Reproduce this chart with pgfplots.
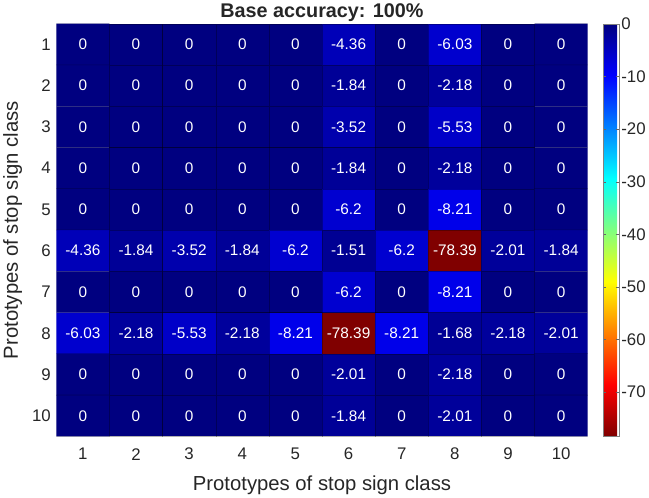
\documentclass[border=0pt]{standalone}
\usepackage{pgfplots}
\pgfplotsset{compat=1.18}
\usepackage{fontspec}
\setmainfont{Liberation Sans}
\begin{document}
\begin{tikzpicture}
\begin{axis}[
  scale only axis,
  width=537pt, height=417pt,
  xmin=0.5, xmax=10.5, ymin=0.5, ymax=10.5,
  y dir=reverse,
  xtick={1,...,10}, ytick={1,...,10},
  tick style={draw=none},
  /pgf/number format/assume math mode=true,
  tick label style={font=\fontsize{17}{19}\selectfont, text=black!85},
  xticklabel style={anchor=center, yshift=-18pt},
  yticklabel style={xshift=-2pt},
  xlabel={Prototypes of stop sign class},
  ylabel={Prototypes of stop sign class},
  label style={font=\fontsize{20.5}{22}\selectfont, text=black!85},
  title={\textbf{Base accuracy: 100\%}},
  title style={font=\fontsize{20}{22}\selectfont, text=black!85, yshift=-7pt},
  xlabel style={at={(axis description cs:0.5,0)}, anchor=center, yshift=-49pt},
  ylabel style={at={(axis description cs:0,0.5)}, anchor=center, rotate=0, yshift=44pt},
  axis line style={draw=none},
  colormap={rjet}{rgb(0pt)=(0.5,0,0); rgb(1pt)=(1,0,0); rgb(3pt)=(1,1,0); rgb(5pt)=(0,1,1); rgb(7pt)=(0,0,1); rgb(8pt)=(0,0,0.5)},
  point meta min=-78.39, point meta max=0,
  colorbar right,
  colorbar style={
    width=16pt,
    at={(parent axis.north east)}, anchor=north west, xshift=7pt,
    ytick={0,-10,-20,-30,-40,-50,-60,-70},
    yticklabel style={font=\fontsize{17}{19}\selectfont, text=black!85, xshift=-1pt},
    /pgf/number format/assume math mode=true,
    major tick length=3pt,
    tick style={draw=black!60},
    axis line style={draw=black!50},
  },
  nodes near coords,
  nodes near coords style={font=\fontsize{15.5}{17}\selectfont, text=white, anchor=center},
  /pgf/number format/.cd, fixed, precision=2,
]
\addplot[matrix plot, mesh/cols=10, point meta=explicit, draw=black, line width=0.3pt, draw opacity=0.3] table[meta=z] {
x y z
1 1 0
2 1 0
3 1 0
4 1 0
5 1 0
6 1 -4.36
7 1 0
8 1 -6.03
9 1 0
10 1 0
1 2 0
2 2 0
3 2 0
4 2 0
5 2 0
6 2 -1.84
7 2 0
8 2 -2.18
9 2 0
10 2 0
1 3 0
2 3 0
3 3 0
4 3 0
5 3 0
6 3 -3.52
7 3 0
8 3 -5.53
9 3 0
10 3 0
1 4 0
2 4 0
3 4 0
4 4 0
5 4 0
6 4 -1.84
7 4 0
8 4 -2.18
9 4 0
10 4 0
1 5 0
2 5 0
3 5 0
4 5 0
5 5 0
6 5 -6.2
7 5 0
8 5 -8.21
9 5 0
10 5 0
1 6 -4.36
2 6 -1.84
3 6 -3.52
4 6 -1.84
5 6 -6.2
6 6 -1.51
7 6 -6.2
8 6 -78.39
9 6 -2.01
10 6 -1.84
1 7 0
2 7 0
3 7 0
4 7 0
5 7 0
6 7 -6.2
7 7 0
8 7 -8.21
9 7 0
10 7 0
1 8 -6.03
2 8 -2.18
3 8 -5.53
4 8 -2.18
5 8 -8.21
6 8 -78.39
7 8 -8.21
8 8 -1.68
9 8 -2.18
10 8 -2.01
1 9 0
2 9 0
3 9 0
4 9 0
5 9 0
6 9 -2.01
7 9 0
8 9 -2.18
9 9 0
10 9 0
1 10 0
2 10 0
3 10 0
4 10 0
5 10 0
6 10 -1.84
7 10 0
8 10 -2.01
9 10 0
10 10 0
};
\end{axis}
\end{tikzpicture}
\end{document}
